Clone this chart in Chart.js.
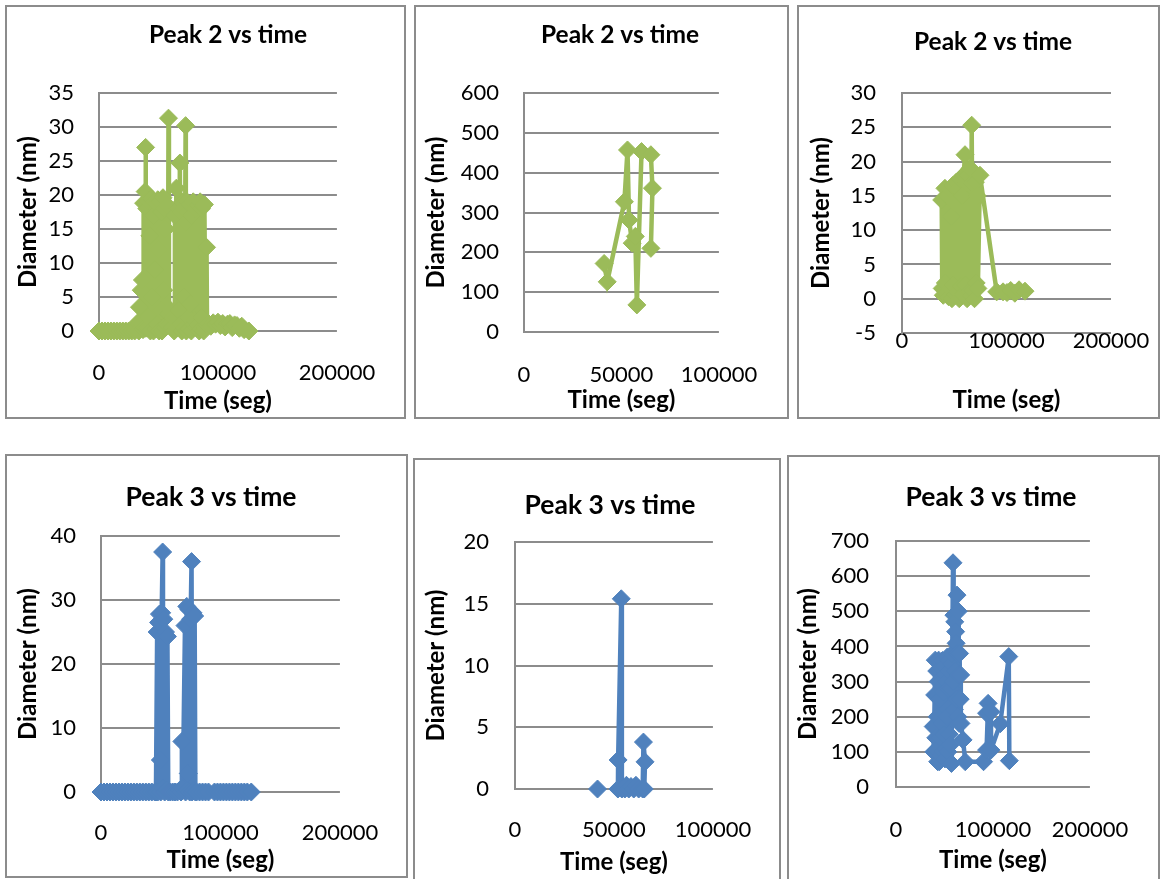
<!DOCTYPE html>
<html>
<head>
<meta charset="utf-8">
<title>Peak diameter vs time</title>
<script src="https://cdn.jsdelivr.net/npm/chart.js@4"></script>
<style>
  html, body { margin: 0; padding: 0; background: #fff; }
  body { width: 1162px; height: 879px; position: relative; overflow: hidden; }
  .panel { position: absolute; box-sizing: border-box; border: 2px solid #8c8c8c; background: #fff; }
  .panel canvas { position: absolute; left: 0; top: 0; }
</style>
</head>
<body>
<div class="panel" id="p1"><canvas id="c1"></canvas></div>
<div class="panel" id="p2"><canvas id="c2"></canvas></div>
<div class="panel" id="p3"><canvas id="c3"></canvas></div>
<div class="panel" id="p4"><canvas id="c4"></canvas></div>
<div class="panel" id="p5"><canvas id="c5"></canvas></div>
<div class="panel" id="p6"><canvas id="c6"></canvas></div>
<script>
// ---- measurements: time (s) and diameter (nm) ----

// Peak 2, run 1
const time1 = [0, 2500, 5000, 7500, 10000, 12500, 15000, 17500, 20000, 22500, 25000, 27500, 30000,
  31000, 32500, 33500, 34000, 35000, 35500, 36000, 36500, 37000, 37500, 38200, 38800, 39200, 39400,
  40200, 40800, 41500, 42000, 42800, 43200, 44000, 44600, 45200, 45800, 46500, 47000, 47600, 48200,
  48800, 49400, 50000, 50600, 51200, 51800, 52400, 53000, 53800, 54400, 55000, 55600, 56200, 56800,
  57400, 58000, 58400, 58800, 59500, 60500, 61500, 62500, 63200, 63800, 64400, 65000, 65600, 66200,
  67000, 68000, 68400, 69000, 69600, 70200, 70800, 71400, 72000, 72800, 73000, 73400, 74000, 74600,
  75200, 75800, 76400, 77000, 77600, 78400, 79200, 79800, 80400, 80800, 82000, 83200, 83600, 84200,
  85000, 85600, 86200, 86800, 87400, 88000, 88600, 89400, 90400, 90800, 92000, 94000, 96000, 98000,
  100000, 102000, 104000, 106000, 108000, 110000, 112000, 114000, 116000, 118000, 120000, 122000, 126000];
const peak2Run1 = [0, 0, 0, 0, 0, 0, 0, 0, 0, 0, 0, 0, 0,
  0.3, 1.2, 0, 3.5, 0.5, 6, 1, 7.5, 0.2, 18.8, 0.5, 20.5, 27, 0.4,
  18, 0.5, 19.2, 2, 14, 0, 19.5, 5, 17, 0, 19, 9, 0.3, 18.8,
  1, 19.3, 12, 0, 19, 3, 17.5, 0, 19.6, 6, 18, 0.5, 15, 1,
  18.5, 2.6, 31.3, 2.5, 1, 3, 0.5, 2, 0, 17, 2, 21, 0.5, 18,
  3, 24.7, 1, 17.5, 0, 19, 5, 18, 0.4, 30.2, 16, 0, 19, 2,
  17.5, 0.3, 18.6, 4, 0, 17, 19, 1, 18, 1.5, 0.5, 1, 18.5, 0,
  19, 0.3, 18, 2, 18.5, 0, 18.6, 0.5, 12.3, 1, 1.1, 0.7, 1.2, 1,
  1.3, 0.8, 1.1, 0.6, 1, 1.1, 0.5, 0.9, 0.8, 0.4, 0.7, 0.2, 0];

// Peak 2, run 2
const time2 = [41100, 42700, 51500, 53100, 53900, 55500, 57100, 57900, 60300, 65100, 65900, 65100];
const peak2Run2 = [172, 126, 327, 457, 281, 223, 240, 68, 453, 445, 361, 210];

// Peak 2, run 3
const time3 = [38000, 38500, 39500, 41100, 41500, 42500, 43500, 44500, 45500, 46000, 47000, 47800,
  48500, 49500, 50500, 51200, 52000, 53000, 54000, 54800, 55600, 56500, 57500, 58200, 59000, 60300,
  60600, 61500, 62300, 63200, 64000, 65000, 66000, 66700, 67000, 67800, 68600, 69400, 70200, 71000,
  72000, 72600, 74600, 90600, 96700, 100500, 104000, 108000, 112000, 117700];
const peak2Run3 = [14.4, 1.5, 0.5, 16.1, 2.3, 0.8, 15, 0.3, 16, 1.5, 12, 0,
  16.5, 2, 14, 0.5, 17, 1, 16, 0, 17.5, 1.8, 15, 0.6, 18, 21,
  2, 17, 0, 18, 1, 19, 0.5, 25.3, 17, 1.2, 18.5, 0, 17, 2.3,
  15, 1.5, 18, 1, 1, 0.9, 1.2, 0.8, 1.3, 1.1];

// Peak 3, run 1
const time4 = [0, 2500, 5000, 7500, 10000, 12500, 15000, 17500, 20000, 22500, 25000, 27500, 30000,
  32500, 35000, 37500, 40000, 42500, 45000, 46000, 47000, 47500, 48200, 48900, 49700, 50000, 50800,
  51600, 51900, 52600, 53300, 54000, 54600, 55600, 56300, 58000, 60000, 62000, 64000, 66000, 67000,
  67700, 68500, 70300, 70800, 71800, 72300, 73100, 73600, 74300, 75000, 75800, 76300, 77000, 77600,
  78400, 79000, 80000, 82500, 85000, 87500, 90000, 95000, 97500, 100000, 102500, 105000, 107500,
  110000, 112500, 115000, 117500, 120000, 122500, 125800];
const peak3Run1 = [0, 0, 0, 0, 0, 0, 0, 0, 0, 0, 0, 0, 0,
  0, 0, 0, 0, 0, 0, 0, 25, 0, 26.5, 27.8, 5, 0, 28,
  37.5, 0.5, 27, 0, 25, 0.3, 24.3, 0, 0, 0, 0, 0, 0.3, 0,
  7.9, 0.5, 26, 0, 29, 0.3, 2.9, 28.5, 0, 27, 36, 0, 28, 0.2,
  27.5, 0, 0, 0, 0, 0, 0, 0, 0, 0, 0, 0, 0,
  0, 0, 0, 0, 0, 0, 0];

// Peak 3, run 2 (null = no reading, line is broken there)
const time5 = [41700, 47000, 52000, 52100, 53700, 54000, 55500, 56300, 57500, 58600, 60000, 61100,
  62500, 64500, 64900, 65700, 65300];
const peak3Run2 = [0, null, 0, 2.35, 15.4, 0, 0, 0.3, 0, 0.2, 0, 0.3,
  0, 0, 3.8, 2.2, 0];

// Peak 3, run 3
const time6 = [38400, 39000, 39900, 40500, 41000, 41500, 42000, 42500, 43000, 43500, 44000, 44600,
  45000, 45500, 46000, 46500, 47000, 47500, 48000, 48500, 49000, 49500, 50000, 50500, 51000, 51500,
  52000, 52500, 53000, 53500, 54000, 54500, 55000, 55500, 56000, 56500, 57200, 57600, 58000, 58800,
  59200, 59700, 60200, 60600, 61000, 61500, 62000, 62500, 62900, 63300, 63800, 64200, 64700, 65100,
  65600, 66200, 66700, 67000, 69200, 71400, 90300, 93400, 95000, 93400, 98000, 98000, 107500,
  116300, 116900];
const peak3Run3 = [172, 100, 262, 361, 140, 105, 330, 200, 72, 300, 361, 72,
  250, 140, 340, 90, 300, 180, 360, 100, 270, 150, 345, 80, 320, 110,
  300, 200, 370, 100, 280, 360, 150, 330, 120, 280, 67, 350, 380, 638,
  300, 489, 220, 470, 330, 442, 409, 250, 546, 380, 200, 500, 319, 181,
  380, 250, 319, 181, 134, 72, 72, 105, 238, 210, 214, 105, 180,
  371, 75];

// axis ranges: [min, max, step]
const timeTicks = { wide: [0, 200000, 100000], narrow: [0, 100000, 50000] };

const GREEN = '#9bbb59';
const BLUE = '#4f81bd';
const GRID = '#8c8c8c';
const FONT = 'Lato';

// ---- panel geometry (page pixels) ----
const panels = [
  { id: 'p1', canvas: 'c1', box: [5, 5, 406, 419], plot: [99, 93, 349, 331],
    title: 'Peak 2 vs time', titleX: 228, titleY: 35, titleSize: 24.5,
    xTickY: 373, xTitleY: 401, yTitleX: 28, yGap: 25,
    x: timeTicks.wide, y: [0, 35, 5], time: time1, diam: peak2Run1, color: GREEN },
  { id: 'p2', canvas: 'c2', box: [414, 5, 789, 419], plot: [524, 93, 733, 332],
    title: 'Peak 2 vs time', titleX: 620, titleY: 35, titleSize: 24.5,
    xTickY: 375, xTitleY: 400, yTitleX: 436, yGap: 25,
    x: timeTicks.narrow, y: [0, 600, 100], time: time2, diam: peak2Run2, color: GREEN },
  { id: 'p3', canvas: 'c3', box: [797, 5, 1160, 419], plot: [902, 93, 1111, 333],
    title: 'Peak 2 vs time', titleX: 993, titleY: 42, titleSize: 24.5,
    xTickY: 341, xTitleY: 400, yTitleX: 821, yGap: 26,
    x: timeTicks.wide, y: [-5, 30, 5], time: time3, diam: peak2Run3, color: GREEN },
  { id: 'p4', canvas: 'c4', box: [5, 454, 408, 878], plot: [101, 536, 349, 792],
    title: 'Peak 3 vs time', titleX: 211, titleY: 497, titleSize: 26.5,
    xTickY: 833, xTitleY: 860, yTitleX: 28, yGap: 25,
    x: timeTicks.wide, y: [0, 40, 10], time: time4, diam: peak3Run1, color: BLUE },
  { id: 'p5', canvas: 'c5', box: [413, 458, 781, 884], plot: [515, 542, 723, 789],
    title: 'Peak 3 vs time', titleX: 610, titleY: 505, titleSize: 26.5,
    xTickY: 830, xTitleY: 862, yTitleX: 436, yGap: 26,
    x: timeTicks.narrow, y: [0, 20, 5], time: time5, diam: peak3Run2, color: BLUE },
  { id: 'p6', canvas: 'c6', box: [787, 455, 1160, 884], plot: [896, 541, 1108, 787],
    title: 'Peak 3 vs time', titleX: 991, titleY: 497, titleSize: 26.5,
    xTickY: 830, xTitleY: 860, yTitleX: 808, yGap: 27,
    x: timeTicks.wide, y: [0, 700, 100], time: time6, diam: peak3Run3, color: BLUE }
];

const TICK_SIZE = 22;
const AXIS_TITLE_SIZE = 24;
const LH = 1.2;

Chart.defaults.font.family = FONT;
Chart.defaults.color = '#000';

// chart heading drawn at a fixed spot inside the panel
const panelTitle = {
  id: 'panelTitle',
  afterDraw(chart, args, opts) {
    const ctx = chart.ctx;
    ctx.save();
    ctx.font = `bold ${opts.size}px ${FONT}`;
    ctx.fillStyle = '#000';
    ctx.textAlign = 'center';
    ctx.textBaseline = 'middle';
    ctx.fillText(opts.text, opts.x, opts.y);
    ctx.restore();
  }
};

panels.forEach(p => {
  const [bl, bt, br, bb] = p.box;
  const ox = bl + 2, oy = bt + 2;          // canvas origin inside the border
  const cw = br - bl - 4, ch = bb - bt - 4;
  const [px0, py0, px1, py1] = p.plot;

  const div = document.getElementById(p.id);
  Object.assign(div.style, { left: bl + 'px', top: bt + 'px', width: (br - bl) + 'px', height: (bb - bt) + 'px' });
  const cv = document.getElementById(p.canvas);
  cv.width = cw; cv.height = ch;
  cv.style.width = cw + 'px'; cv.style.height = ch + 'px';

  const tickLH = TICK_SIZE * LH;
  const titleLH = AXIS_TITLE_SIZE * LH;
  const points = p.time.map((t, i) => ({ x: t, y: p.diam[i] }));

  new Chart(cv, {
    type: 'scatter',
    data: {
      datasets: [{
        data: points,
        showLine: true,
        borderColor: p.color,
        backgroundColor: p.color,
        borderWidth: 4.5,
        pointStyle: 'rectRot',
        pointRadius: 9,
        pointBorderWidth: 1,
        pointBorderColor: p.color,
        pointBackgroundColor: p.color,
        spanGaps: false,
        tension: 0,
        clip: false
      }]
    },
    options: {
      responsive: false,
      animation: false,
      devicePixelRatio: 1,
      layout: { padding: { left: 0, top: py0 - oy, right: ox + cw - px1, bottom: 0 } },
      plugins: {
        legend: { display: false },
        tooltip: { enabled: false },
        title: { display: false },
        panelTitle: { text: p.title, x: p.titleX - ox, y: p.titleY - oy, size: p.titleSize }
      },
      scales: {
        x: {
          type: 'linear',
          min: p.x[0], max: p.x[1],
          afterBuildTicks: s => { s.ticks = [p.x[0], p.x[0] + p.x[2], p.x[1]].map(v => ({ value: v })); },
          ticks: {
            autoSkip: false, maxRotation: 0, minRotation: 0,
            padding: p.xTickY - py1 - tickLH / 2,
            font: { size: TICK_SIZE, lineHeight: LH },
            callback: v => String(v)
          },
          grid: { display: false, drawTicks: false },
          border: { display: false },
          title: {
            display: true, text: 'Time (seg)',
            font: { size: AXIS_TITLE_SIZE, weight: 'bold', lineHeight: LH },
            padding: { top: 0, bottom: oy + ch - p.xTitleY - titleLH / 2 }
          },
          afterFit: s => { s.height = oy + ch - py1; }
        },
        y: {
          min: p.y[0], max: p.y[1],
          ticks: {
            stepSize: p.y[2],
            padding: p.yGap,
            font: { size: TICK_SIZE, lineHeight: LH },
            callback: v => String(v)
          },
          grid: { color: GRID, lineWidth: 2, drawTicks: false },
          border: { display: true, color: GRID, width: 2 },
          title: {
            display: true, text: 'Diameter (nm)',
            font: { size: AXIS_TITLE_SIZE, weight: 'bold', lineHeight: LH },
            padding: { top: p.yTitleX - ox - titleLH / 2, bottom: 0 }
          },
          afterFit: s => { s.width = px0 - ox; }
        }
      }
    },
    plugins: [panelTitle]
  });
});
</script>
</body>
</html>
